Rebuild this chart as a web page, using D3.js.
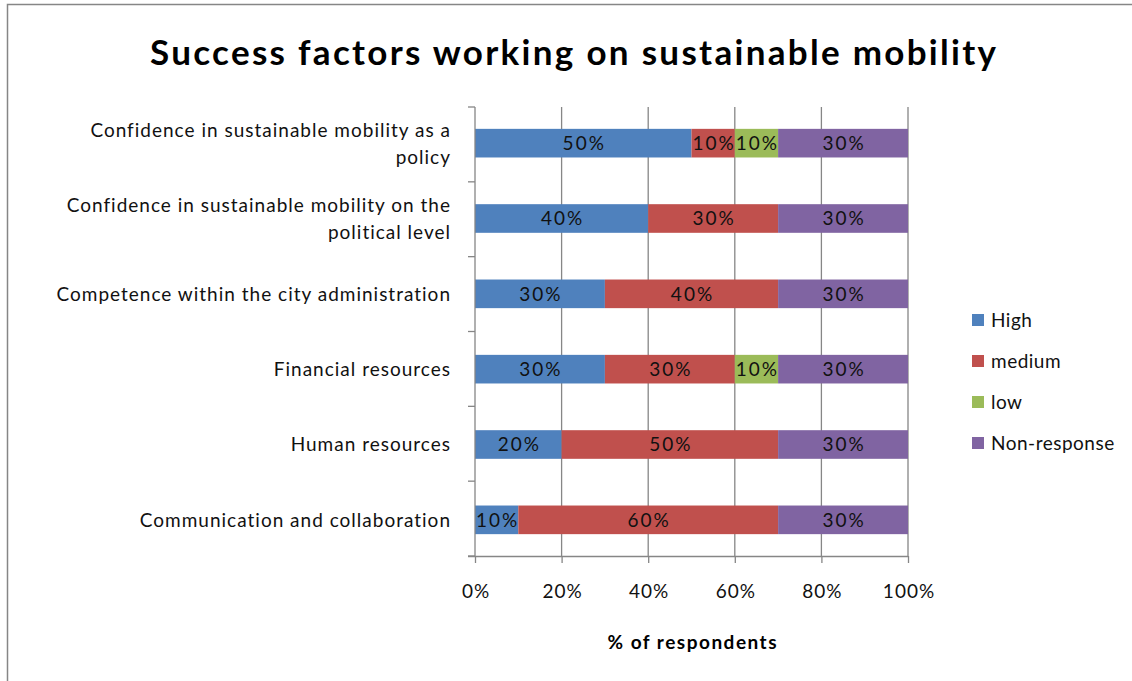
<!DOCTYPE html>
<html>
<head>
<meta charset="utf-8">
<script src="https://cdn.jsdelivr.net/npm/d3@7"></script>
<style>
  html, body { margin: 0; padding: 0; background: #fff; }
  svg { display: block; font-family: Lato, "Open Sans", sans-serif; }
</style>
</head>
<body>
<svg id="chart" width="1132" height="681"></svg>
<script>
// Categories, top to bottom, with their wrapped label lines
const categories = [
  "Confidence in sustainable mobility as a policy",
  "Confidence in sustainable mobility on the political level",
  "Competence within the city administration",
  "Financial resources",
  "Human resources",
  "Communication and collaboration"
];
const categoryLines = [
  ["Confidence in sustainable mobility as a", "policy"],
  ["Confidence in sustainable mobility on the", "political level"],
  ["Competence within the city administration"],
  ["Financial resources"],
  ["Human resources"],
  ["Communication and collaboration"]
];

// Series shares (fraction of respondents)
const seriesNames = ["High", "medium", "low", "Non-response"];
const high        = [0.5, 0.4, 0.3, 0.3, 0.2, 0.1];
const medium      = [0.1, 0.3, 0.4, 0.3, 0.5, 0.6];
const low         = [0.1, 0.0, 0.0, 0.1, 0.0, 0.0];
const nonResponse = [0.3, 0.3, 0.3, 0.3, 0.3, 0.3];
const seriesColors = ["#4F81BD", "#C0504D", "#9BBB59", "#8064A2"];

const xTicks = [0, 0.2, 0.4, 0.6, 0.8, 1.0];

const svg = d3.select("#chart");
const textColor = "#111";

// outer chart frame (left and top edges)
svg.append("path")
  .attr("d", "M7.5,681 V4.5 H1132")
  .attr("fill", "none")
  .attr("stroke", "#868686")
  .attr("stroke-width", 1.5);

// title
const titleLs = 2.3;
svg.append("text")
  .attr("x", 573).attr("y", 65)
  .attr("dx", titleLs / 2)
  .attr("text-anchor", "middle")
  .attr("font-size", 35).attr("font-weight", "bold")
  .attr("letter-spacing", titleLs)
  .attr("fill", "#000")
  .text("Success factors working on sustainable mobility");

const plot = { left: 475, right: 908, top: 107, bottom: 556 };

const x = d3.scaleLinear().domain([0, 1]).range([plot.left, plot.right]);
const y = d3.scaleBand().domain(categories).range([plot.top, plot.bottom]).paddingInner(0.62).paddingOuter(0.29);

// vertical gridlines
svg.append("g").selectAll("line")
  .data(xTicks.slice(1))
  .join("line")
  .attr("x1", d => x(d)).attr("x2", d => x(d))
  .attr("y1", plot.top).attr("y2", plot.bottom)
  .attr("stroke", "#868686").attr("stroke-width", 1.3);

// stacked data
const rows = categories.map((c, i) => ({
  category: c, High: high[i], medium: medium[i], low: low[i], "Non-response": nonResponse[i]
}));
const stacked = d3.stack().keys(seriesNames)(rows);

const layers = svg.append("g").selectAll("g")
  .data(stacked)
  .join("g")
  .attr("fill", (d, i) => seriesColors[i]);

layers.selectAll("rect")
  .data(d => d.filter(s => s[1] - s[0] > 0))
  .join("rect")
  .attr("x", d => x(d[0]))
  .attr("width", d => x(d[1]) - x(d[0]))
  .attr("y", d => y(d.data.category))
  .attr("height", y.bandwidth());

// value labels inside segments
const valueLs = 2;
layers.selectAll("text")
  .data(d => d.filter(s => s[1] - s[0] > 0))
  .join("text")
  .attr("x", d => (x(d[0]) + x(d[1])) / 2)
  .attr("y", d => y(d.data.category) + y.bandwidth() / 2)
  .attr("dx", valueLs / 2)
  .attr("dy", "0.36em")
  .attr("text-anchor", "middle")
  .attr("font-size", 19)
  .attr("letter-spacing", valueLs)
  .attr("fill", textColor)
  .text(d => Math.round((d[1] - d[0]) * 100) + "%");

// y axis with ticks at category boundaries
const yAxisG = svg.append("g");
yAxisG.append("line")
  .attr("x1", plot.left).attr("x2", plot.left)
  .attr("y1", plot.top).attr("y2", plot.bottom)
  .attr("stroke", "#868686").attr("stroke-width", 1.3);
const step = (plot.bottom - plot.top) / categories.length;
yAxisG.selectAll("line.tick")
  .data(d3.range(categories.length + 1))
  .join("line")
  .attr("class", "tick")
  .attr("x1", plot.left - 7).attr("x2", plot.left)
  .attr("y1", i => plot.top + i * step).attr("y2", i => plot.top + i * step)
  .attr("stroke", "#868686").attr("stroke-width", 1.3);

// category labels
const catLs = 1;
const catLabels = svg.append("g").selectAll("text")
  .data(categories)
  .join("text")
  .attr("text-anchor", "end")
  .attr("font-size", 19)
  .attr("letter-spacing", catLs)
  .attr("fill", textColor)
  .attr("y", (d, i) => {
    const n = categoryLines[i].length;
    return y(d) + y.bandwidth() / 2 - (n - 1) * 13.5;
  });
catLabels.selectAll("tspan")
  .data((d, i) => categoryLines[i])
  .join("tspan")
  .attr("x", 450 + catLs)
  .attr("dy", (d, j) => j === 0 ? "0.36em" : 27)
  .text(d => d);

// x axis
const tickLs = 1;
const xAxis = d3.axisBottom(x)
  .tickValues(xTicks)
  .tickFormat(d3.format(".0%"))
  .tickSize(7)
  .tickPadding(22);
const xAxisG = svg.append("g")
  .attr("transform", `translate(0,${plot.bottom})`)
  .call(xAxis);
xAxisG.select(".domain").attr("stroke", "#868686").attr("stroke-width", 1.3)
  .attr("d", `M${plot.left - 7},0.5H${plot.right}`);
xAxisG.selectAll(".tick line").attr("stroke", "#868686").attr("stroke-width", 1.3);
xAxisG.selectAll(".tick text")
  .attr("font-size", 19)
  .attr("letter-spacing", tickLs)
  .attr("dx", tickLs / 2)
  .attr("font-family", "Lato, 'Open Sans', sans-serif")
  .attr("fill", textColor);

// x axis title
const axisTitleLs = 1.5;
svg.append("text")
  .attr("x", 692).attr("y", 649)
  .attr("dx", axisTitleLs / 2)
  .attr("text-anchor", "middle")
  .attr("font-size", 19).attr("font-weight", "bold")
  .attr("letter-spacing", axisTitleLs)
  .attr("fill", "#000")
  .text("% of respondents");

// legend
const legend = svg.append("g").selectAll("g")
  .data(seriesNames)
  .join("g")
  .attr("transform", (d, i) => `translate(972,${320 + i * 41})`);
legend.append("rect")
  .attr("x", 0).attr("y", -6)
  .attr("width", 12).attr("height", 12)
  .attr("fill", (d, i) => seriesColors[i]);
legend.append("text")
  .attr("x", 19).attr("dy", "0.36em")
  .attr("font-size", 19)
  .attr("letter-spacing", 0.5)
  .attr("fill", textColor)
  .text(d => d);
</script>
</body>
</html>
